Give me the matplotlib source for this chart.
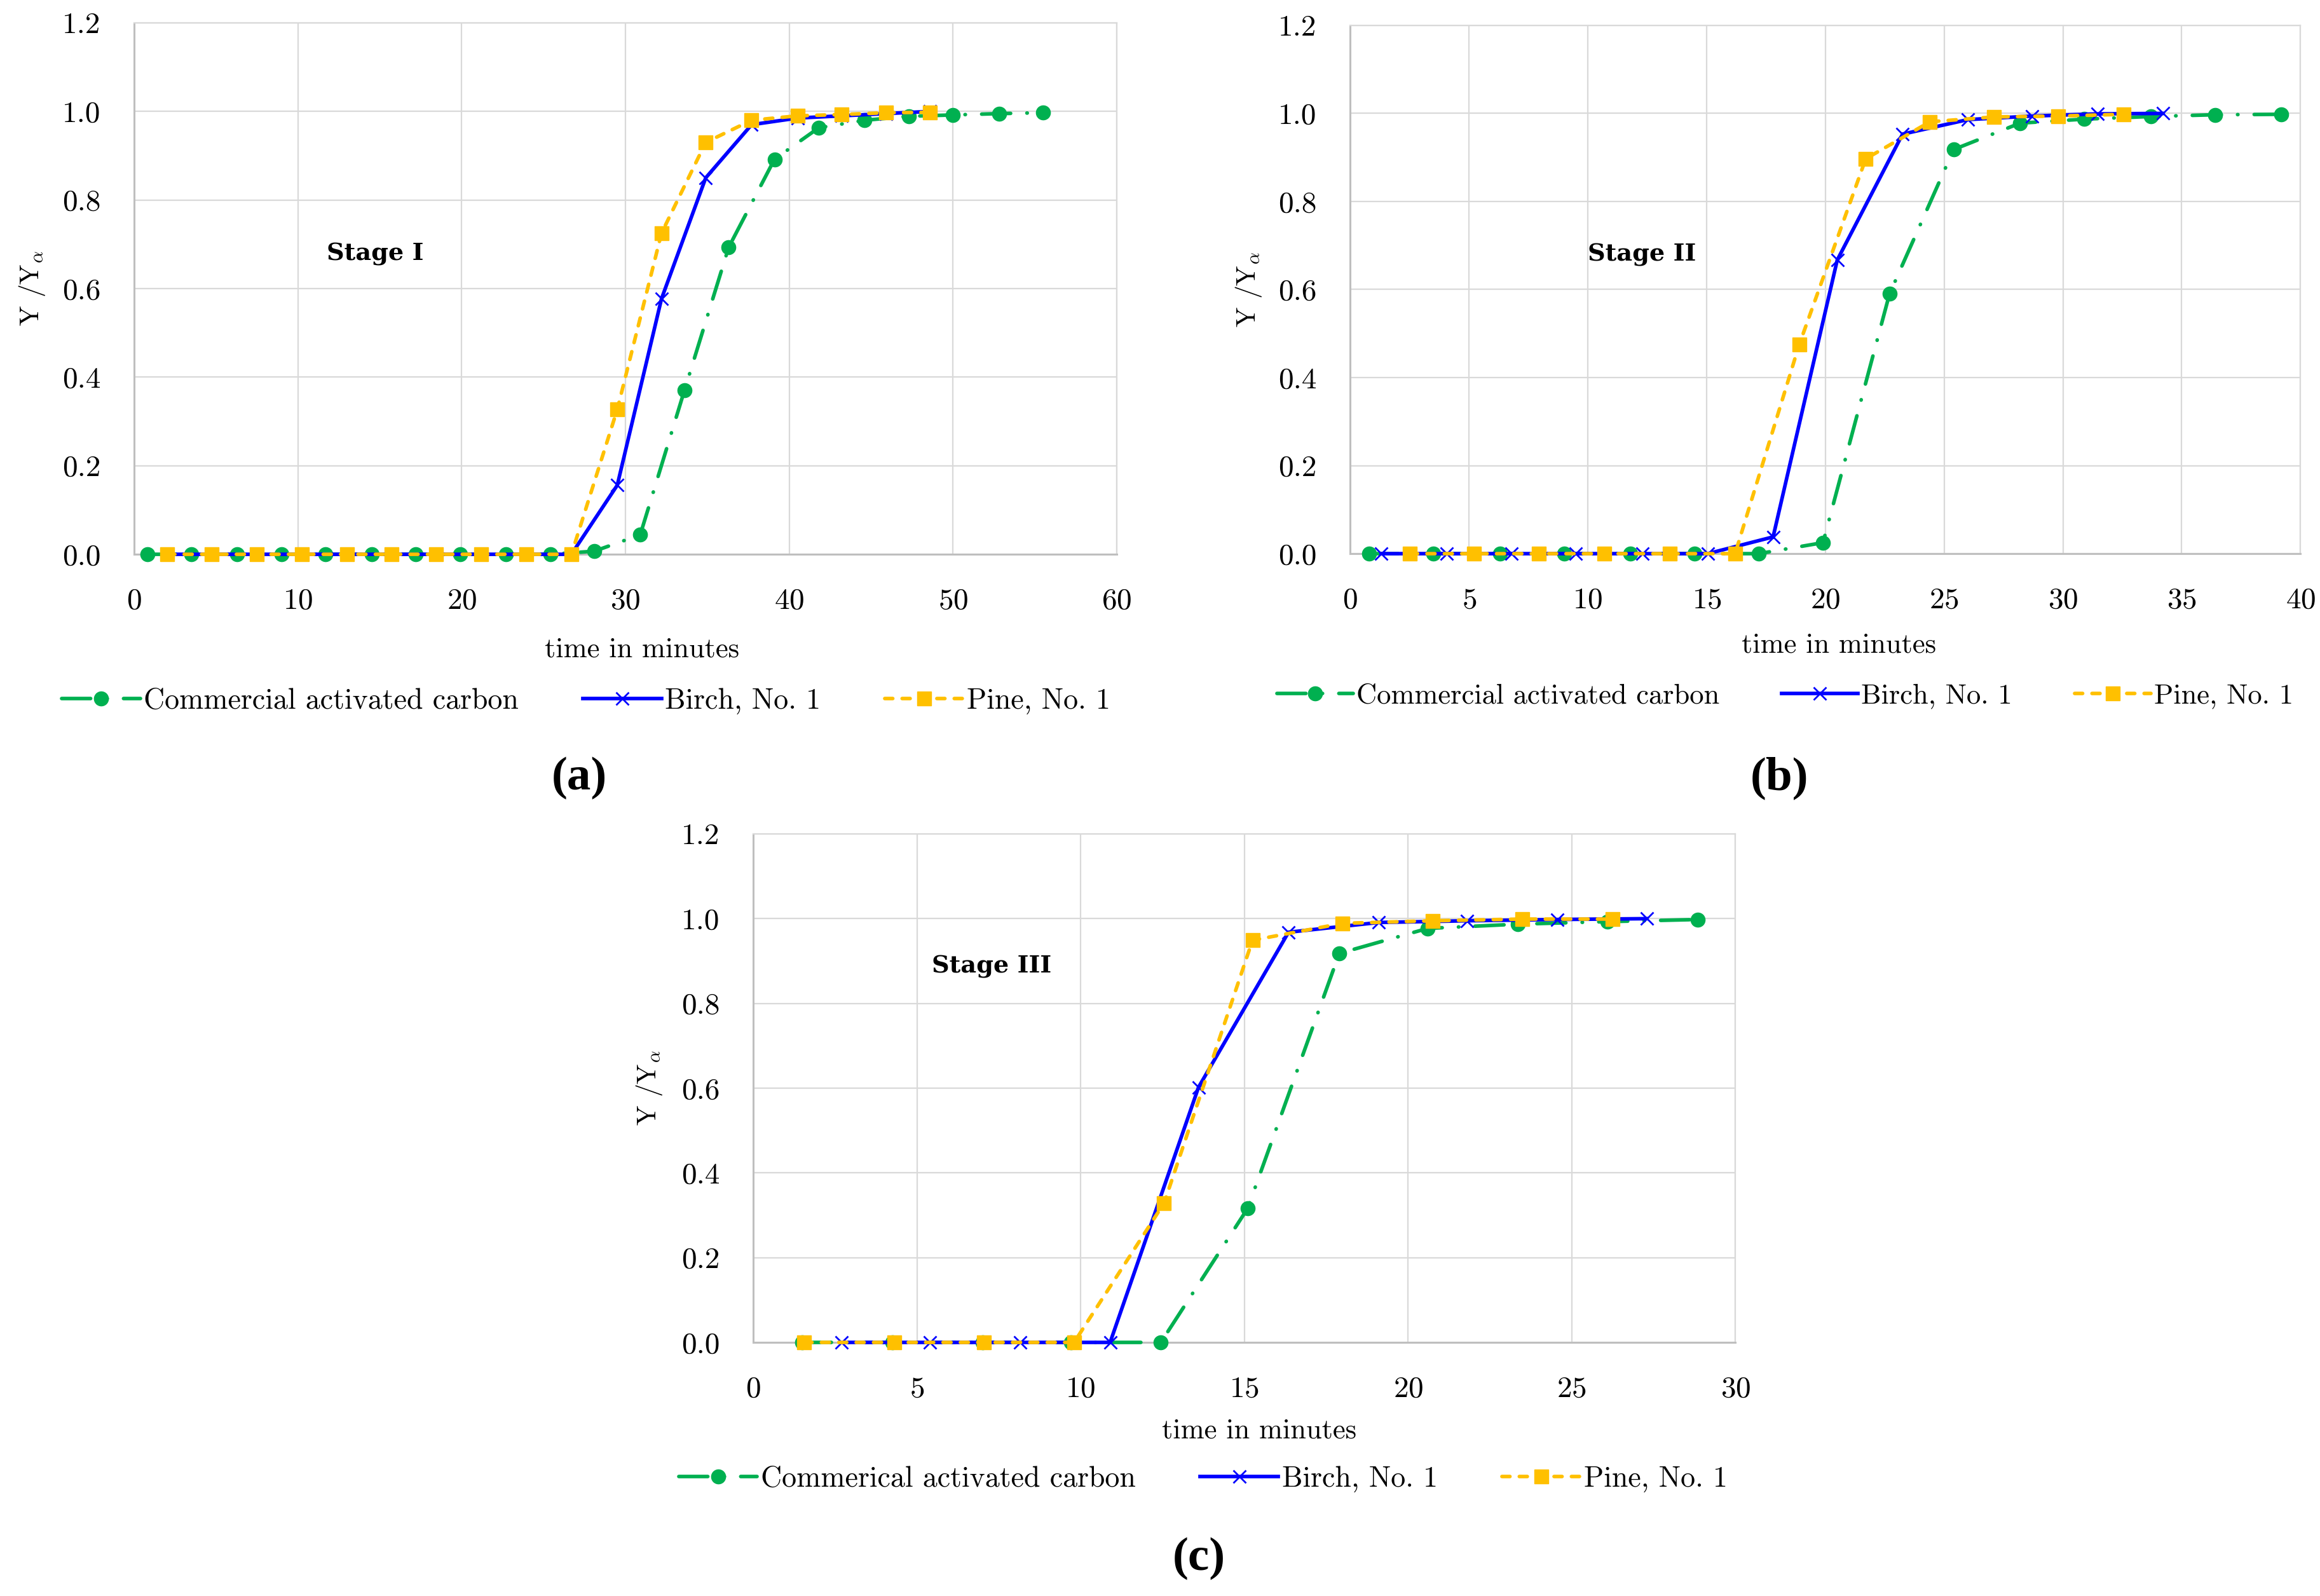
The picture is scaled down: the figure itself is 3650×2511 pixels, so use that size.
from __future__ import annotations

import matplotlib

matplotlib.use("Agg")
import matplotlib.pyplot as plt

# ---- data (time in minutes, Y/Y_alpha) ----
A_GREEN_X = [0.8, 3.5, 6.3, 9.0, 11.7, 14.5, 17.2, 19.9, 22.7, 25.4, 28.1,
             30.9, 33.6, 36.3, 39.1, 41.8, 44.6, 47.3, 50.0, 52.8, 55.5]
A_GREEN_Y = [0.0, 0.0, 0.0, 0.0, 0.0, 0.0, 0.0, 0.0, 0.0, 0.0, 0.007,
             0.044, 0.37, 0.693, 0.892, 0.963, 0.98, 0.989, 0.992, 0.995, 0.997]
A_BIRCH_X = [2.0, 4.75, 7.5, 10.25, 13.0, 15.7, 18.45, 21.2, 23.95, 26.7,
             29.5, 32.2, 34.9, 37.7, 40.5, 43.2, 45.9, 48.6]
A_BIRCH_Y = [0.0, 0.0, 0.0, 0.0, 0.0, 0.0, 0.0, 0.0, 0.0, 0.0,
             0.156, 0.577, 0.85, 0.97, 0.985, 0.99, 0.995, 1.0]
A_PINE_X = [2.0, 4.75, 7.5, 10.25, 13.0, 15.7, 18.45, 21.2, 23.95, 26.7,
            29.5, 32.2, 34.9, 37.7, 40.5, 43.2, 45.9, 48.6]
A_PINE_Y = [0.0, 0.0, 0.0, 0.0, 0.0, 0.0, 0.0, 0.0, 0.0, 0.0,
            0.327, 0.725, 0.93, 0.98, 0.99, 0.993, 0.997, 0.998]

B_GREEN_X = [0.8, 3.5, 6.3, 9.0, 11.8, 14.5, 17.2, 19.9, 22.7, 25.4, 28.2,
             30.9, 33.7, 36.4, 39.2]
B_GREEN_Y = [0.0, 0.0, 0.0, 0.0, 0.0, 0.0, 0.0, 0.025, 0.59, 0.918, 0.978,
             0.987, 0.993, 0.997, 0.998]
B_BIRCH_X = [1.3, 4.05, 6.8, 9.5, 12.3, 15.05, 17.8, 20.5, 23.25, 26.0, 28.7,
             31.45, 34.2]
B_BIRCH_Y = [0.0, 0.0, 0.0, 0.0, 0.0, 0.0, 0.038, 0.667, 0.953, 0.986, 0.994,
             0.999, 1.0]
B_PINE_X = [2.5, 5.2, 7.95, 10.7, 13.45, 16.2, 18.9, 21.7, 24.4, 27.1, 29.8,
            32.55]
B_PINE_Y = [0.0, 0.0, 0.0, 0.0, 0.0, 0.0, 0.475, 0.897, 0.981, 0.992, 0.994,
            0.998]

C_GREEN_X = [1.5, 4.25, 7.0, 9.7, 12.45, 15.1, 17.9, 20.6, 23.35, 26.1, 28.85]
C_GREEN_Y = [0.0, 0.0, 0.0, 0.0, 0.0, 0.316, 0.918, 0.977, 0.987, 0.993, 0.998]
C_BIRCH_X = [2.7, 5.4, 8.15, 10.9, 13.6, 16.35, 19.1, 21.8, 24.55, 27.3]
C_BIRCH_Y = [0.0, 0.0, 0.0, 0.0, 0.602, 0.968, 0.991, 0.995, 0.998, 1.0]
C_PINE_X = [1.55, 4.3, 7.05, 9.8, 12.55, 15.25, 18.0, 20.75, 23.5, 26.25]
C_PINE_Y = [0.0, 0.0, 0.0, 0.0, 0.329, 0.949, 0.989, 0.995, 0.999, 0.999]

LABELS_AB = ["Commercial activated carbon", "Birch, No. 1", "Pine, No. 1"]
LABELS_C = ["Commerical activated carbon", "Birch, No. 1", "Pine, No. 1"]
STAGES = ["Stage I", "Stage II", "Stage III"]
PANEL_TAGS = ["(a)", "(b)", "(c)"]
X_MAX = [60, 40, 30]
X_STEP = [10, 5, 5]
Y_TICKS = [0.0, 0.2, 0.4, 0.6, 0.8, 1.0, 1.2]

GREEN = "#00B050"
BLUE = "#0000FF"
YELLOW = "#FFC000"
GRID = "#D9D9D9"
AXIS = "#BFBFBF"

LW = 4.1
TICK_FS = 34
LABEL_FS = 32


def draw_panel(fig, rect, series, labels, stage, stage_pos, x_max, x_step,
               xlabel_pos, ylabel_x, legend_pos, legend_fs):
    ax = fig.add_axes(rect)
    (gx, gy), (bx, by), (px, py) = series

    # excel "long dash dot" and "dash" styles, round caps
    ax.plot(gx, gy, color=GREEN, lw=LW, dashes=(8, 4.5, 0.1, 4.5),
            dash_capstyle="round", marker="o", ms=16, mec=GREEN, mfc=GREEN,
            label=labels[0], zorder=3, clip_on=False)
    ax.plot(bx, by, color=BLUE, lw=LW, marker="x", ms=14.5, mew=2,
            label=labels[1], zorder=4, clip_on=False)
    ax.plot(px, py, color=YELLOW, lw=LW, dashes=(2.2, 2.6),
            dash_capstyle="round", marker="s", ms=16.5, mec=YELLOW,
            mfc=YELLOW, label=labels[2], zorder=5, clip_on=False)

    ax.set_xlim(0, x_max)
    ax.set_ylim(0, 1.2)
    ax.set_xticks(list(range(0, x_max + 1, x_step)))
    ax.set_yticks(Y_TICKS)
    ax.set_yticklabels([f"{v:.1f}" for v in Y_TICKS])
    ax.tick_params(length=0, labelsize=TICK_FS, pad=38)
    ax.grid(True, color=GRID, lw=1.6, zorder=0)
    ax.set_axisbelow(True)
    for side in ("top", "right"):
        ax.spines[side].set_color(GRID)
        ax.spines[side].set_linewidth(1.6)
    for side in ("left", "bottom"):
        ax.spines[side].set_color(AXIS)
        ax.spines[side].set_linewidth(2.2)

    ax.set_xlabel("time in minutes", fontsize=LABEL_FS)
    ax.xaxis.label.set_va("center")
    ax.xaxis.set_label_coords(*xlabel_pos)
    ax.set_ylabel(r"Y /Y$_{\alpha}$", fontsize=30)
    ax.yaxis.label.set_va("center")
    ax.yaxis.set_label_coords(ylabel_x, 0.5)

    ax.text(stage_pos[0], stage_pos[1], stage, transform=ax.transAxes,
            ha="center", va="center", fontsize=27.5, fontweight="bold",
            family="DejaVu Serif")

    ax.legend(loc="center", bbox_to_anchor=legend_pos, ncol=3, frameon=False,
              fontsize=legend_fs, handlelength=2.7, handletextpad=0.12,
              columnspacing=2.2, numpoints=1)
    return ax


def main() -> int:
    plt.rcParams["font.family"] = ["cmr10"]
    plt.rcParams["mathtext.fontset"] = "cm"
    plt.rcParams["axes.formatter.use_mathtext"] = True

    fig = plt.figure(figsize=(36.5, 25.11), dpi=100)

    draw_panel(fig, [0.0578, 0.6527, 0.4236, 0.333],
               [(A_GREEN_X, A_GREEN_Y), (A_BIRCH_X, A_BIRCH_Y), (A_PINE_X, A_PINE_Y)],
               LABELS_AB, STAGES[0], (0.245, 0.565), X_MAX[0], X_STEP[0],
               (0.517, -0.18), -0.104, (0.46, -0.276), 33)
    draw_panel(fig, [0.582, 0.6531, 0.4096, 0.331],
               [(B_GREEN_X, B_GREEN_Y), (B_BIRCH_X, B_BIRCH_Y), (B_PINE_X, B_PINE_Y)],
               LABELS_AB, STAGES[1], (0.307, 0.566), X_MAX[1], X_STEP[1],
               (0.514, -0.174), -0.107, (0.4575, -0.27), 32)
    draw_panel(fig, [0.3247, 0.1589, 0.4233, 0.3186],
               [(C_GREEN_X, C_GREEN_Y), (C_BIRCH_X, C_BIRCH_Y), (C_PINE_X, C_PINE_Y)],
               LABELS_C, STAGES[2], (0.243, 0.739), X_MAX[2], X_STEP[2],
               (0.515, -0.174), -0.106, (0.458, -0.269), 33)

    tag_pos = [(0.2496, 0.5125), (0.767, 0.5125), (0.5167, 0.0235)]
    for tag, (tx, ty) in zip(PANEL_TAGS, tag_pos):
        fig.text(tx, ty, tag, ha="center", va="center", fontsize=54,
                 fontweight="bold", family="Liberation Serif")

    fig.savefig("out.png", dpi=100)
    plt.close(fig)
    return 0


if __name__ == "__main__":
    raise SystemExit(main())
